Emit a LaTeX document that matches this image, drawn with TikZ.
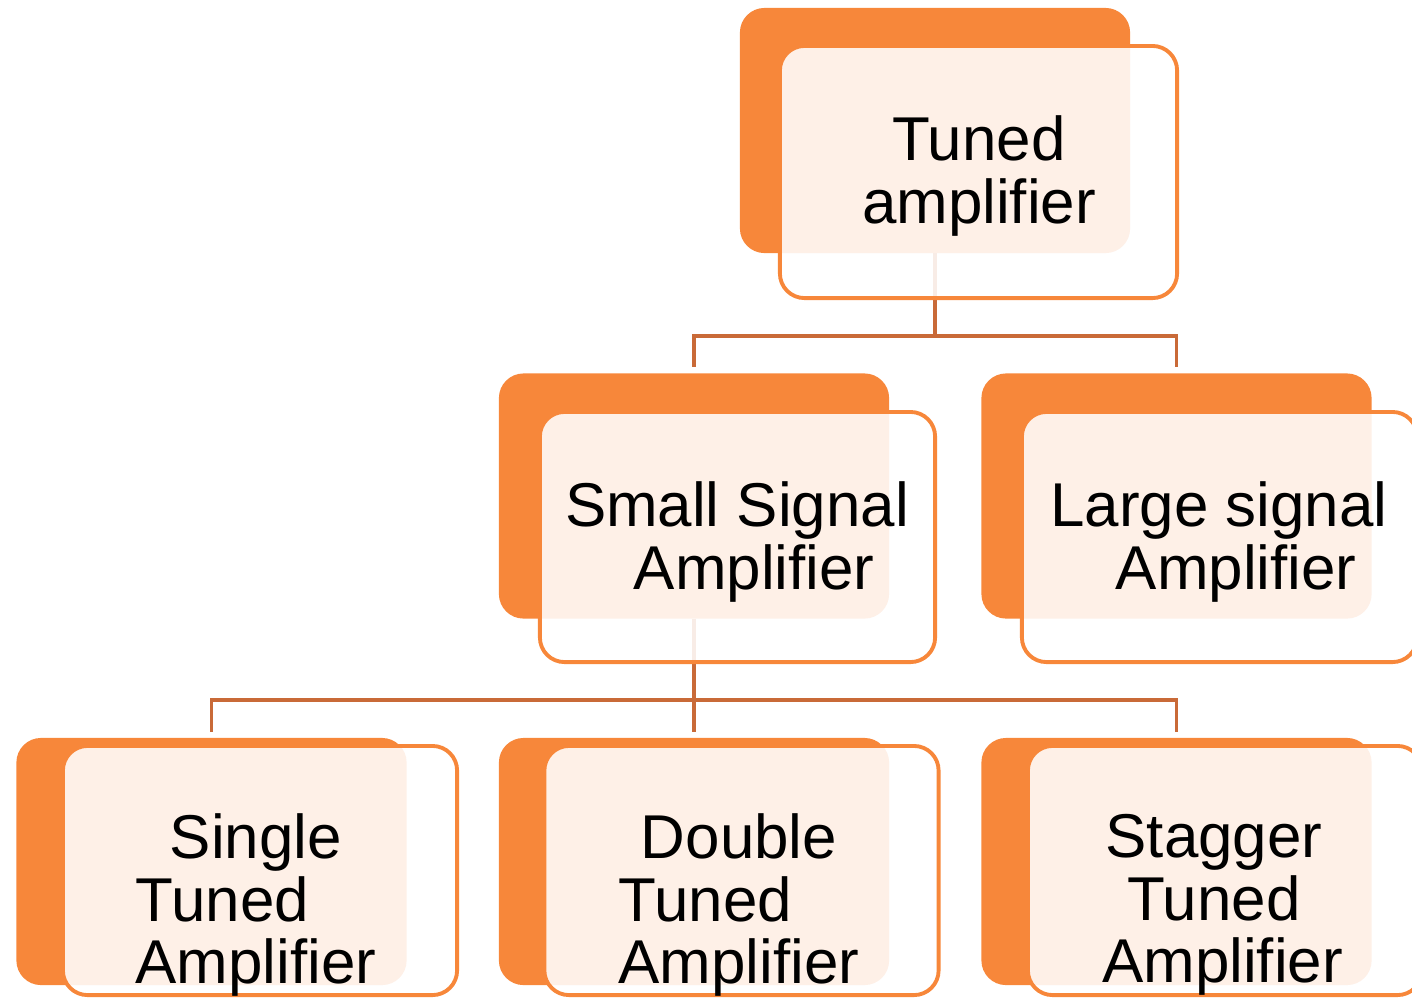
\documentclass[tikz,border=0pt]{standalone}
\usepackage{fontspec}
\setmainfont{Liberation Sans}
\usetikzlibrary{positioning}

\definecolor{boxorange}{HTML}{F7873A}
\definecolor{linkorange}{HTML}{C96A38}

\tikzset{
    backbox/.style={fill=boxorange, draw=none, rounded corners=7pt, inner sep=0pt, outer sep=0pt,
        minimum width=3.9cm, minimum height=2.45cm},
    frontbox/.style={fill=white, fill opacity=0.88, draw=boxorange, line width=1.1pt, rounded corners=7pt,
        inner sep=0pt, outer sep=0pt, minimum width=3.95cm, minimum height=2.5cm},
    label text/.style={align=center, inner sep=0pt, text=black, font=\fontsize{17.6}{17.8}\selectfont},
    link/.style={draw=linkorange, line width=1.1pt, shorten >=0.06cm}
}

\begin{document}
\begin{tikzpicture}[x=0.01cm, y=-0.01cm]
    \useasboundingbox (0,0) rectangle (1412,999);
    \clip (0,0) rectangle (1412,999);

    % back boxes
    \node[backbox] (tunedb) at (935,130.5) {};
    \node[backbox] (smallb) at (694,496) {};
    \node[backbox] (largeb) at (1176.5,496) {};
    \node[backbox, minimum height=2.47cm] (singleb) at (211.5,861.5) {};
    \node[backbox, minimum height=2.47cm] (doubleb) at (694,861.5) {};
    \node[backbox, minimum height=2.47cm] (staggerb) at (1176.5,861.5) {};

    % connectors
    \coordinate (split1) at (935,336);
    \coordinate (split2) at (694,700);
    \draw[link, shorten >=0pt] (tunedb.south) -- (split1);
    \draw[link] (split1) -| (smallb.north);
    \draw[link] (split1) -| (largeb.north);
    \draw[link, shorten >=0pt] (smallb.south) -- (split2);
    \draw[link] (split2) -| (singleb.north);
    \draw[link] (split2) -- (doubleb.north);
    \draw[link] (split2) -| (staggerb.north);

    % front boxes
    \node[frontbox, minimum width=3.97cm, minimum height=2.52cm] (tunedf) at (978.5,172) {};
    \node[frontbox] (smallf) at (737.5,537) {};
    \node[frontbox] (largef) at (1219.5,537) {};
    \node[frontbox, minimum width=3.94cm, minimum height=2.49cm] (singlef) at (260,870.5) {};
    \node[frontbox, minimum width=3.94cm, minimum height=2.49cm] (doublef) at (741.5,870.5) {};
    \node[frontbox, minimum width=3.94cm, minimum height=2.49cm] (staggerf) at (1225,870.5) {};

    % texts
    \node[label text] (tunedt) at (979,176) {Tuned\\amplifier};
    \node[label text] (smallt) at (737,542) {Small Signal\\\hspace*{0.556em}Amplifier};
    \node[label text] (larget) at (1219,542) {Large signal\\\hspace*{0.556em}Amplifier};
    \node[label text] (singlet) at (256,905) {Single\\Tuned\hspace*{1.09em}\mbox{}\\Amplifier};
    \node[label text] (doublet) at (739,905) {Double\\Tuned\hspace*{1.09em}\mbox{}\\Amplifier};
    \node[label text] (staggert) at (1214,905) {Stagger\\Tuned\\\hspace*{0.278em}Amplifier};
\end{tikzpicture}
\end{document}
